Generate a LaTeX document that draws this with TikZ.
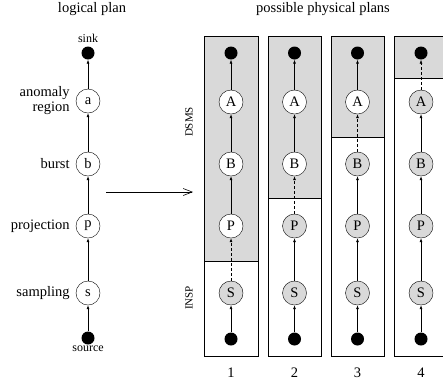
\documentclass[tikz,border=0pt]{standalone}
\usepackage{fontspec}
\setmainfont{Liberation Serif}
\usetikzlibrary{arrows.meta}
\definecolor{dsmsgray}{gray}{0.85}

\begin{document}
\begin{tikzpicture}[x=1pt,y=-1pt,font=\fontsize{14.5}{15}\selectfont]
  \tikzstyle{op} = [circle, draw=black, fill=white, minimum size=24pt, inner sep=0pt]
  \tikzstyle{insp} = [op, fill=dsmsgray]
  \tikzstyle{dot} = [circle, fill=black, minimum size=13pt, inner sep=0pt]
  \tikzstyle{arrow} = [line width=0.6pt, -{Latex[length=4pt,width=3pt]}]
  \tikzstyle{cut} = [arrow, dash pattern=on 3pt off 2pt]
  \tikzstyle{small} = [font=\fontsize{12}{12}\selectfont]
  \tikzstyle{side} = [font=\fontsize{11}{11}\selectfont, rotate=90]
  \tikzstyle{oplabel} = [align=right, inner sep=2pt, label distance=4pt]
  \tikzstyle{plan} = [draw=black, line width=0.8pt]
  \tikzstyle{dsms} = [plan, fill=dsmsgray]

  \useasboundingbox (0,0) rectangle (443,384);
  \clip (0,0) rectangle (443,384);

  % logical plan
  \node (logical) at (92,9) {logical plan};
  \node (sink) [dot, label={[small]above:sink}] at (88,53) {};
  \node (a) [op, label={[oplabel]left:anomaly\\region}] at (88,101) {a};
  \node (b) [op, label={[oplabel]left:burst}] at (88,164) {b};
  \node (p) [op, label={[oplabel]left:projection}] at (88,226) {p};
  \node (s) [op, label={[oplabel]left:sampling}] at (88,293) {s};
  \node (source) [dot, label={[small,inner sep=1pt]below:source}] at (88,338) {};

  \draw[arrow] (source) -- (s);
  \draw[arrow] (s) -- (p);
  \draw[arrow] (p) -- (b);
  \draw[arrow] (b) -- (a);
  \draw[arrow] (a) -- (sink);

  \coordinate (from) at (106,192);
  \coordinate (to) at (193,192);
  \draw[line width=0.6pt, -{Straight Barb[length=9pt,width=7pt]}] (from) -- (to);

  % physical plans
  \node (physical) at (323,9) {possible physical plans};
  \node (dsmslabel) [side] at (189,122) {DSMS};
  \node (insplabel) [side] at (189,298) {INSP};

  \draw[plan, fill=white] (204,36) rectangle (258,356);
  \draw[dsms] (204,36) rectangle (258,261);
  \draw[plan, fill=white] (268,36) rectangle (321,356);
  \draw[dsms] (268,36) rectangle (321,198);
  \draw[plan, fill=white] (331,36) rectangle (384,356);
  \draw[dsms] (331,36) rectangle (384,137);
  \draw[plan, fill=white] (394,36) rectangle (448,356);
  \draw[dsms] (394,36) rectangle (448,78);

  % plan 1
  \node (sink1) [dot] at (231,53) {};
  \node (A1) [op] at (231,102) {A};
  \node (B1) [op] at (231,164) {B};
  \node (P1) [op] at (231,226) {P};
  \node (S1) [insp] at (231,293) {S};
  \node (src1) [dot] at (231,339) {};
  \node (n1) at (231,373) {1};
  \draw[arrow] (src1) -- (S1);
  \draw[cut] (S1) -- (P1);
  \draw[arrow] (P1) -- (B1);
  \draw[arrow] (B1) -- (A1);
  \draw[arrow] (A1) -- (sink1);

  % plan 2
  \node (sink2) [dot] at (294.5,53) {};
  \node (A2) [op] at (294.5,102) {A};
  \node (B2) [op] at (294.5,164) {B};
  \node (P2) [insp] at (294.5,226) {P};
  \node (S2) [insp] at (294.5,293) {S};
  \node (src2) [dot] at (294.5,339) {};
  \node (n2) at (294.5,373) {2};
  \draw[arrow] (src2) -- (S2);
  \draw[arrow] (S2) -- (P2);
  \draw[cut] (P2) -- (B2);
  \draw[arrow] (B2) -- (A2);
  \draw[arrow] (A2) -- (sink2);

  % plan 3
  \node (sink3) [dot] at (357.5,53) {};
  \node (A3) [op] at (357.5,102) {A};
  \node (B3) [insp] at (357.5,164) {B};
  \node (P3) [insp] at (357.5,226) {P};
  \node (S3) [insp] at (357.5,293) {S};
  \node (src3) [dot] at (357.5,339) {};
  \node (n3) at (357.5,373) {3};
  \draw[arrow] (src3) -- (S3);
  \draw[arrow] (S3) -- (P3);
  \draw[arrow] (P3) -- (B3);
  \draw[cut] (B3) -- (A3);
  \draw[arrow] (A3) -- (sink3);

  % plan 4
  \node (sink4) [dot] at (421,53) {};
  \node (A4) [insp] at (421,102) {A};
  \node (B4) [insp] at (421,164) {B};
  \node (P4) [insp] at (421,226) {P};
  \node (S4) [insp] at (421,293) {S};
  \node (src4) [dot] at (421,339) {};
  \node (n4) at (421,373) {4};
  \draw[arrow] (src4) -- (S4);
  \draw[arrow] (S4) -- (P4);
  \draw[arrow] (P4) -- (B4);
  \draw[arrow] (B4) -- (A4);
  \draw[cut] (A4) -- (sink4);
\end{tikzpicture}
\end{document}
